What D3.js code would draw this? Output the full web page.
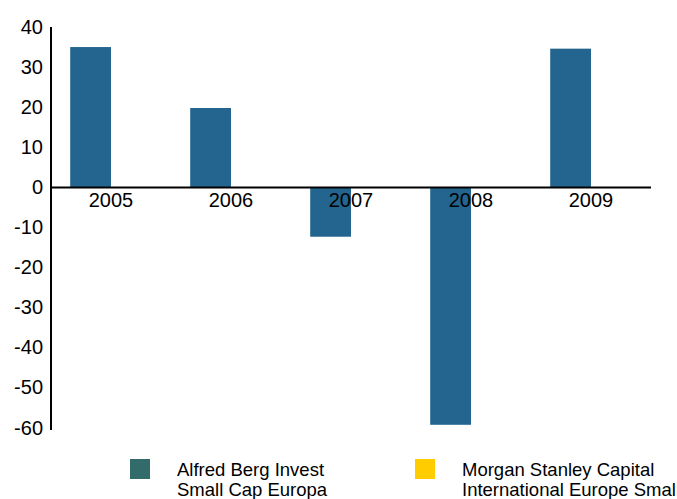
<!DOCTYPE html>
<html>
<head>
<meta charset="utf-8">
<script src="https://cdn.jsdelivr.net/npm/d3@7"></script>
<style>
body { margin: 0; background: #fff; }
text { font-family: "Liberation Sans", Arial, sans-serif; fill: #000; }
</style>
</head>
<body>
<script>
/* Data */
var years = ["2005", "2006", "2007", "2008", "2009"],
	seriesNames = ["Alfred Berg Invest Small Cap Europa", "Morgan Stanley Capital International Europe Small Cap"],
	fundValues = [35.0, 19.8, -12.3, -59.2, 34.6],
	indexValues = [null, null, null, null, null], // no bars drawn for the index
	yTicks = [40, 30, 20, 10, 0, -10, -20, -30, -40, -50, -60],
	legendLines = [["Alfred Berg Invest", "Small Cap Europa"], ["Morgan Stanley Capital", "International Europe Small Cap"]];

/* Display setup */
var width = 677, height = 499,
	margin = {top: 27, right: 26, bottom: 71, left: 51},
	colors = ["#246590", "#ffcc00"],
	legendColors = ["#336b6b", "#ffcc00"],
	svg = d3.select("body").append("svg")
		.attr("width", width)
		.attr("height", height);

var x0 = d3.scaleBand()
	.domain(years)
	.range([margin.left, width - margin.right])
	.paddingInner(0.32)
	.paddingOuter(0.16);

var x1 = d3.scaleBand()
	.domain([0, 1])
	.range([0, x0.bandwidth()]);

var y = d3.scaleLinear()
	.domain([-60, 40])
	.range([height - margin.bottom, margin.top]);

var rows = years.map(function(yr, i) {
	return {year: yr, values: [fundValues[i], indexValues[i]]};
});

/* Bars */
var groups = svg.append("g").selectAll("g")
	.data(rows)
	.enter().append("g")
		.attr("transform", function(d) { return "translate(" + x0(d.year) + ",0)"; });

groups.selectAll("rect")
	.data(function(d) {
		return d.values.map(function(v, k) { return {k: k, v: v}; })
			.filter(function(e) { return e.v != null; });
	})
	.enter().append("rect")
		.attr("x", function(d) { return x1(d.k); })
		.attr("width", x1.bandwidth())
		.attr("y", function(d) { return y(Math.max(0, d.v)); })
		.attr("height", function(d) { return Math.abs(y(d.v) - y(0)); })
		.style("fill", function(d) { return colors[d.k]; });

/* Y axis */
var yAxis = svg.append("g")
	.attr("transform", "translate(" + margin.left + ",0)")
	.call(d3.axisLeft(y).tickValues(yTicks).tickSize(0).tickPadding(8)
		.tickFormat(function(d) { return String(d); })); // plain hyphen, not the unicode minus
yAxis.select(".domain").remove();
yAxis.selectAll("text")
	.style("font-size", "20px")
	.attr("dy", "0.3em");

svg.append("line")
	.attr("x1", margin.left).attr("x2", margin.left)
	.attr("y1", y(40)).attr("y2", y(-60) + 2)
	.style("stroke", "#000")
	.style("stroke-width", 2);

/* Zero line */
svg.append("line")
	.attr("x1", margin.left).attr("x2", width - margin.right)
	.attr("y1", y(0)).attr("y2", y(0))
	.style("stroke", "#000")
	.style("stroke-width", 2);

/* Year labels */
svg.append("g").selectAll("text")
	.data(years)
	.enter().append("text")
		.attr("x", function(d) { return x0(d) + x0.bandwidth() / 2; })
		.attr("y", y(0) + 20)
		.style("text-anchor", "middle")
		.style("font-size", "20px")
		.text(function(d) { return d; });

/* Legend */
var legendX = [130, 415];
var legend = svg.append("g").selectAll("g")
	.data(seriesNames)
	.enter().append("g")
		.attr("transform", function(d, i) { return "translate(" + legendX[i] + ",459)"; });

legend.append("rect")
	.attr("width", 20)
	.attr("height", 20)
	.style("fill", function(d, i) { return legendColors[i]; });

legend.append("text")
	.attr("x", 47)
	.attr("y", 17)
	.style("font-size", "18.5px")
	.selectAll("tspan")
	.data(function(d, i) { return legendLines[i]; })
	.enter().append("tspan")
		.attr("x", 47)
		.attr("dy", function(d, j) { return j ? 20 : 0; })
		.text(function(d) { return d; });
</script>
</body>
</html>
